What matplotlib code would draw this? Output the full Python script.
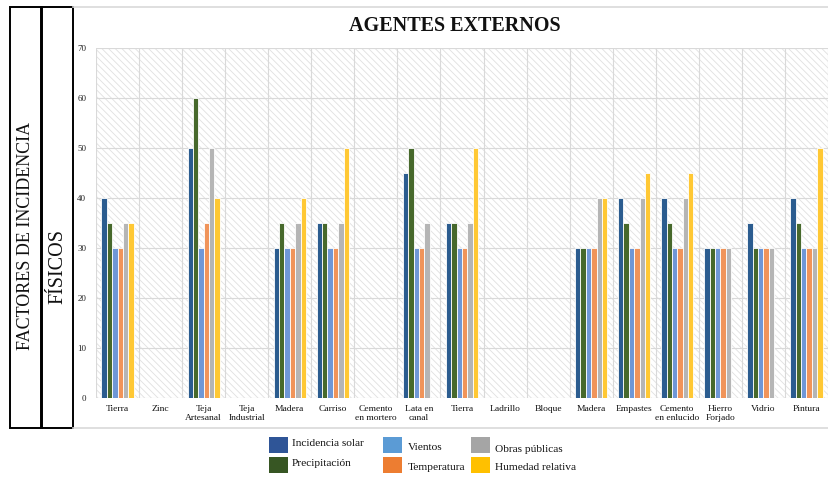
import numpy as np
import matplotlib
matplotlib.use("Agg")
import matplotlib.pyplot as plt
from matplotlib.patches import Rectangle
from matplotlib.lines import Line2D

plt.rcParams["font.family"] = ["Liberation Serif", "DejaVu Serif"]
plt.rcParams["hatch.linewidth"] = 0.6
plt.rcParams["hatch.color"] = "#E0E0E0"

W, H = 829, 479

TITLE = "AGENTES EXTERNOS"
SIDE_LABEL_1 = "FACTORES DE INCIDENCIA"
SIDE_LABEL_2 = "FÍSICOS"

categories = [
    "Tierra", "Zinc", "Teja\nArtesanal", "Teja\nIndustrial", "Madera", "Carriso",
    "Cemento\nen mortero", "Lata en\ncanal", "Tierra", "Ladrillo", "Bloque",
    "Madera", "Empastes", "Cemento\nen enlucido", "Hierro\nForjado", "Vidrio", "Pintura",
]

series_names = [
    "Incidencia solar", "Precipitación", "Vientos",
    "Temperatura", "Obras públicas", "Humedad relativa",
]

incidencia_solar = [40, None, 50, None, 30, 35, None, 45, 35, None, None, 30, 40, 40, 30, 35, 40]
precipitacion    = [35, None, 60, None, 35, 35, None, 50, 35, None, None, 30, 35, 35, 30, 30, 35]
vientos          = [30, None, 30, None, 30, 30, None, 30, 30, None, None, 30, 30, 30, 30, 30, 30]
temperatura      = [30, None, 35, None, 30, 30, None, 30, 30, None, None, 30, 30, 30, 30, 30, 30]
obras_publicas   = [35, None, 50, None, 35, 35, None, 35, 35, None, None, 40, 40, 40, 30, 30, 30]
humedad_relativa = [35, None, 40, None, 40, 50, None, None, 50, None, None, 40, 45, 45, None, None, 50]

series_values = [incidencia_solar, precipitacion, vientos,
                 temperatura, obras_publicas, humedad_relativa]

bar_colors = ["#2B5C8F", "#47692C", "#6F97D6", "#F0945A", "#B5B5B5", "#FFC834"]
legend_colors = ["#2F5597", "#375623", "#5B9BD5", "#ED7D31", "#A5A5A5", "#FFC000"]

y_ticks = [0, 10, 20, 30, 40, 50, 60, 70]

fig = plt.figure(figsize=(W / 100, H / 100), dpi=100)


def px_rect(x0, y0, x1, y1):
    """Figure-fraction rectangle from pixel corners (origin top-left)."""
    return (x0 / W, 1 - y1 / H, (x1 - x0) / W, (y1 - y0) / H)


ax = fig.add_axes(px_rect(96, 48, 828, 398))

# hatched plot background
ax.patch.set_facecolor("white")
ax.patch.set_hatch("\\\\\\\\\\")
ax.patch.set_edgecolor("#E0E0E0")
ax.patch.set_linewidth(0)

n_cat = len(categories)
n_ser = len(series_values)
bar_w = 0.125
x = np.arange(n_cat)

for j, (vals, col) in enumerate(zip(series_values, bar_colors)):
    heights = np.array([np.nan if v is None else v for v in vals], dtype=float)
    offs = (j - (n_ser - 1) / 2) * bar_w
    ax.bar(x + offs, heights, width=bar_w, color=col, edgecolor="white",
           linewidth=0.6, zorder=3)

ax.set_xlim(-0.5, n_cat - 0.5)
ax.set_ylim(0, 70)
ax.set_yticks(y_ticks)
ax.set_xticks(x)
ax.set_xticklabels(categories, fontsize=6.8, linespacing=1.15)
ax.tick_params(axis="y", length=0, labelsize=6.5, pad=7, colors="#222222")
ax.tick_params(axis="x", length=0, pad=5, colors="#111111")

grid_c = "#D9D9D9"
for yv in y_ticks:
    ax.axhline(yv, color=grid_c, lw=0.8, zorder=1)
for xb in np.arange(-0.5, n_cat, 1.0):
    ax.axvline(xb, color=grid_c, lw=0.8, zorder=1)
for s in ax.spines.values():
    s.set_visible(False)

# title
fig.text(455 / W, 1 - 26 / H, TITLE, ha="center", va="center",
         fontsize=14.5, fontweight="bold", color="#111111")

# chart area frame (top and bottom edges)
for yy in (7, 428):
    fig.add_artist(Line2D([73 / W, 1], [1 - yy / H, 1 - yy / H],
                          transform=fig.transFigure, color="#D9D9D9", lw=1.2))

# left boxed labels
for (x0, x1) in ((10, 41.5), (41.5, 73)):
    fig.add_artist(Rectangle(px_rect(x0, 7, x1, 428)[:2], (x1 - x0) / W, 421 / H,
                             transform=fig.transFigure, fill=False,
                             edgecolor="black", lw=1.4))
fig.text(26 / W, 1 - 236 / H, SIDE_LABEL_1, rotation=90, ha="center", va="center",
         fontsize=13, color="#111111")
fig.text(58 / W, 1 - 266 / H, SIDE_LABEL_2, rotation=90, ha="center", va="center",
         fontsize=14.5, color="#111111")

# legend: three columns of two entries
legend_layout = [
    (269, 437, 292, 444),
    (269, 457, 292, 463),
    (383, 437, 408, 447),
    (383, 457, 408, 467),
    (471, 437, 495, 450),
    (471, 457, 495, 468),
]
for name, col, (sx, sy, tx, ty) in zip(series_names, legend_colors, legend_layout):
    fig.add_artist(Rectangle((sx / W, 1 - (sy + 16) / H), 19 / W, 16 / H,
                             transform=fig.transFigure, facecolor=col,
                             edgecolor="none"))
    fig.text(tx / W, 1 - ty / H, name, ha="left", va="center",
             fontsize=8.2, color="#111111")

fig.savefig("out.png", dpi=100)
